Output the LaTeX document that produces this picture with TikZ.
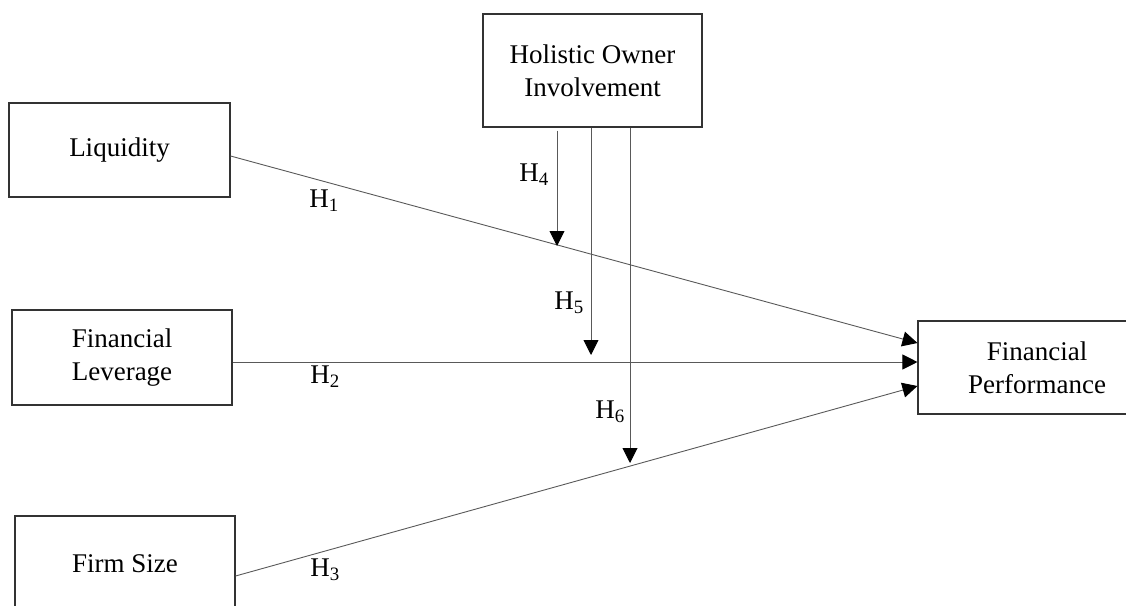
\documentclass[tikz,border=0pt]{standalone}
\usepackage{fontspec}
\setmainfont{Liberation Serif}
\usetikzlibrary{arrows.meta}
\begin{document}
\begin{tikzpicture}[x=1pt,y=-1pt,%
% common options for the variable boxes:
varbox/.style = {draw=black!80, line width=1.1pt, align=center, inner sep=0,
            font=\fontsize{27}{33}\selectfont},
% common options for the paths:
path/.style = {draw=black!65, line width=0.9pt},
effect/.style = {path, -{Triangle[length=15pt,width=15pt,color=black]}},
% common options for the hypothesis labels:
hyp/.style = {font=\fontsize{27}{33}\selectfont, inner sep=0}]
\clip (0,0) rectangle (1126,605);
\node[varbox, minimum width=221pt, minimum height=94pt] (liq) at (119.5,150) {Liquidity};
\node[varbox, minimum width=220pt, minimum height=95pt] (lev) at (122,357.5) {Financial\\Leverage};
\node[varbox, minimum width=220pt, minimum height=96pt] (size) at (125,564) {Firm Size};
\node[varbox, minimum width=219pt, minimum height=113pt] (hoi) at (592.5,70.5) {Holistic Owner\\Involvement};
\node[varbox, minimum width=238pt, minimum height=93pt] (perf) at (1037,367.5) {Financial\\Performance};
% direct effects
\draw[effect] ([yshift=-6pt]liq.east) to ([yshift=24.5pt]perf.west);
\draw[effect] ([yshift=-4.5pt]lev.east) to ([yshift=5.5pt]perf.west);
\draw[effect] ([yshift=-12pt]size.east) to ([yshift=-18.5pt]perf.west);
% moderating effects
\coordinate (t4) at (557,246);
\coordinate (t5) at (591,355);
\coordinate (t6) at (630,463);
\draw[effect] ([xshift=-35.5pt,yshift=-3pt]hoi.south) to (t4);
\draw[effect] ([xshift=-1.5pt]hoi.south) to (t5);
\draw[effect] ([xshift=37.5pt]hoi.south) to (t6);
\node[hyp] (h1) at (324,201) {H\textsubscript{1}};
\node[hyp] (h2) at (325,377) {H\textsubscript{2}};
\node[hyp] (h3) at (325,570) {H\textsubscript{3}};
\node[hyp] (h4) at (534,175) {H\textsubscript{4}};
\node[hyp] (h5) at (569,303) {H\textsubscript{5}};
\node[hyp] (h6) at (610,412) {H\textsubscript{6}};
\end{tikzpicture}
\end{document}
